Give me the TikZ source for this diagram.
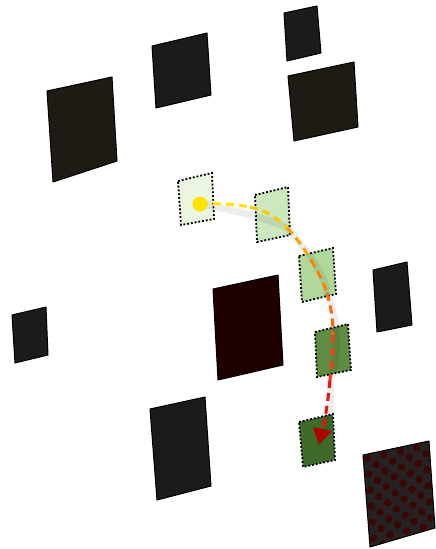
\documentclass[tikz,border=0pt]{standalone}
\usetikzlibrary{arrows.meta}
\definecolor{blk}{HTML}{1B1B1B}
\definecolor{crump}{HTML}{1E1A14}
\definecolor{maroon}{HTML}{1E0000}
\definecolor{gA}{HTML}{EAF6E2}
\definecolor{gB}{HTML}{CCE8BE}
\definecolor{gC}{HTML}{B0D89A}
\definecolor{gD}{HTML}{5E8C42}
\definecolor{gE}{HTML}{3E6A2A}
\definecolor{pY}{HTML}{FFE400}
\definecolor{pY2}{HTML}{FFC800}
\definecolor{pO}{HTML}{FFA000}
\definecolor{pO2}{HTML}{FF8000}
\definecolor{pR}{HTML}{FF3A10}
\definecolor{pR2}{HTML}{F01010}
\definecolor{arr}{HTML}{B00000}
\definecolor{chkbg}{HTML}{262222}
\definecolor{chkfg}{HTML}{3A0707}
\tikzset{
  darkquad/.style={draw=black, line width=1pt, line join=round},
  greenbox/.style={draw=black, line width=1.8pt, dash pattern=on 1.9pt off 1.9pt},
  pathseg/.style={line width=3pt, dash pattern=on 8pt off 5pt},
  pshadow/.style={line width=7pt, black, opacity=0.07, line cap=round},
}
\begin{document}
\begin{tikzpicture}[x=1pt,y=-1pt]
\useasboundingbox (0,0) rectangle (436,549);
\fill[white] (0,0) rectangle (436,549);
% dark squares
\filldraw[darkquad, fill=crump] (47,91) -- (112,77) -- (117,161) -- (53,182) -- cycle;
\filldraw[darkquad, fill=blk] (152,46) -- (207,33) -- (211,95) -- (156,108) -- cycle;
\filldraw[darkquad, fill=blk] (284,13) -- (317,6) -- (321,53) -- (287,61) -- cycle;
\filldraw[darkquad, fill=crump] (288,76) -- (354,62) -- (358,127) -- (294,141) -- cycle;
\filldraw[darkquad, fill=blk] (12,315) -- (46,307) -- (48,355) -- (15,363) -- cycle;
\filldraw[darkquad, fill=maroon] (213,289) -- (278,275) -- (283,365) -- (218,380) -- cycle;
\filldraw[darkquad, fill=blk] (373,270) -- (407,262) -- (412,325) -- (377,332) -- cycle;
\filldraw[darkquad, fill=blk] (150,409) -- (205,397) -- (211,486) -- (157,500) -- cycle;
% checker square
\begin{scope}
\clip (363,455) -- (429,441) -- (435,528) -- (370,547) -- cycle;
\fill[chkbg] (360,438) rectangle (438,549);
\foreach \i in {0,...,7}{
  \foreach \j in {0,...,11}{
    \pgfmathsetmacro{\ca}{(\i+0.5)/8}
    \pgfmathsetmacro{\cb}{(\j+0.5)/11.5}
    \pgfmathsetmacro{\px}{363+66*\ca+7*\cb}
    \pgfmathsetmacro{\py}{455-14*\ca+92*\cb}
    \pgfmathtruncatemacro{\parity}{mod(\i+\j,2)}
    \ifnum\parity=0
      \fill[chkfg] (\px,\py) circle (3.8);
    \fi
  }
}
\end{scope}
\draw[darkquad] (363,455) -- (429,441) -- (435,528) -- (370,547) -- cycle;
% green boxes
\filldraw[greenbox, fill=gA] (178,181) -- (212,173) -- (214,219) -- (181,225) -- cycle;
\filldraw[greenbox, fill=gB] (255,195) -- (288,187) -- (290,235) -- (257,242) -- cycle;
\filldraw[greenbox, fill=gC] (299,256) -- (333,248) -- (336,294) -- (302,302) -- cycle;
\filldraw[greenbox, fill=gD] (315,332) -- (348,324) -- (351,370) -- (317,377) -- cycle;
\filldraw[greenbox, fill=gE] (299,422) -- (333,414) -- (335,460) -- (303,467) -- cycle;
% path coordinates
\coordinate (p0) at (200,204);
\coordinate (p1) at (250,207);
\coordinate (p2) at (287,228);
\coordinate (p3) at (311,260);
\coordinate (p4) at (327,293);
\coordinate (p5) at (333,335);
\coordinate (p6) at (330,380);
\coordinate (p7) at (319,444);
% shadow of path
\begin{scope}[shift={(5,7)}]
\draw[pshadow] (p0) .. controls (225,202) and (265,212) .. (p2)
  .. controls (305,245) and (323,275) .. (p4)
  .. controls (334,315) and (334,355) .. (p6)
  .. controls (327,400) and (324,420) .. (p7);
\fill[black, opacity=0.12] (p0) circle (7);
\end{scope}
% path segments with colour gradient
\draw[pathseg, pY] (p0) .. controls (215,203) and (235,204) .. (p1);
\draw[pathseg, pY2] (p1) .. controls (265,210) and (278,218) .. (p2);
\draw[pathseg, pO] (p2) .. controls (296,237) and (304,248) .. (p3);
\draw[pathseg, pO2] (p3) .. controls (317,270) and (323,281) .. (p4);
\draw[pathseg, pO2!60!pR] (p4) .. controls (331,306) and (333,320) .. (p5);
\draw[pathseg, pR] (p5) .. controls (333,350) and (332,365) .. (p6);
\draw[pathseg, pR2] (p6) .. controls (328,400) and (326,415) .. (323,428);
\fill[arr] (p7) -- (313,427) -- (332,431) -- cycle;
% start dot
\fill[pY] (p0) circle (7.5);
\end{tikzpicture}
\end{document}
